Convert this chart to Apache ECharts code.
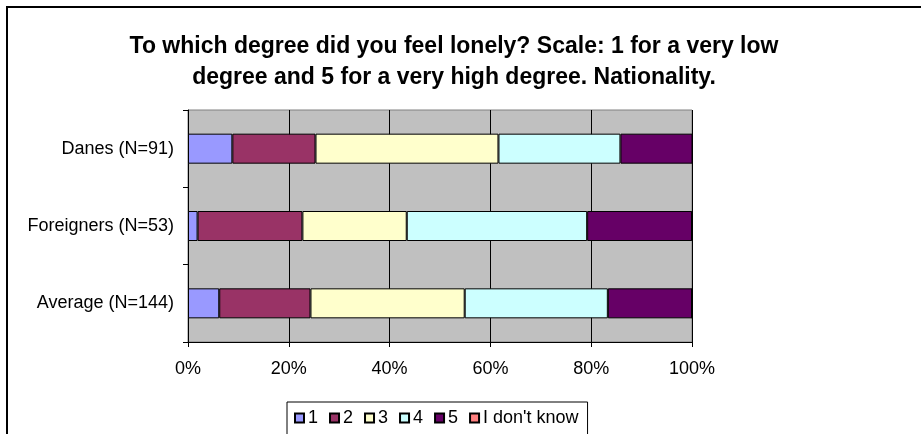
<!DOCTYPE html>
<html>
<head>
<meta charset="utf-8">
<script src="https://cdn.jsdelivr.net/npm/echarts@6/dist/echarts.min.js"></script>
<style>
  html, body { margin: 0; padding: 0; background: #fff; }
  #chart { width: 921px; height: 434px; }
</style>
</head>
<body>
<div id="chart"></div>
<script>
// Share of answers (%) per loneliness score, by nationality group
const groups = ['Danes (N=91)', 'Foreigners (N=53)', 'Average (N=144)'];
const scoreNames = ['1', '2', '3', '4', '5', "I don't know"];
const score1 = [8.8, 1.9, 6.2];
const score2 = [16.5, 20.8, 18.1];
const score3 = [36.3, 20.7, 30.6];
const score4 = [24.2, 35.8, 28.4];
const score5 = [14.3, 20.8, 16.7];
const dontKnow = [0, 0, 0];
const xTicks = [0, 20, 40, 60, 80, 100];

const colors = ['#9999FF', '#993366', '#FFFFCC', '#CCFFFF', '#660066', '#FF8080'];
const seriesValues = [score1, score2, score3, score4, score5, dontKnow];

const FONT = 'Liberation Sans, Arial, sans-serif';

const chart = echarts.init(document.getElementById('chart'), null, { renderer: 'canvas' });

chart.setOption({
  animation: false,
  backgroundColor: '#fff',
  color: colors,
  title: {
    text: 'To which degree did you feel lonely? Scale: 1 for a very low\ndegree and 5 for a very high degree. Nationality.',
    left: 449,
    textAlign: 'center',
    top: 26,
    textStyle: {
      fontFamily: FONT,
      fontSize: 23,
      fontWeight: 'bold',
      color: '#000',
      lineHeight: 31
    }
  },
  legend: {
    data: scoreNames,
    left: 287,
    top: 402,
    orient: 'horizontal',
    itemWidth: 9,
    itemHeight: 9,
    itemGap: 11,
    padding: [7, 9, 30, 7],
    borderColor: '#000',
    borderWidth: 1,
    icon: 'rect',
    textStyle: { fontFamily: FONT, fontSize: 18, color: '#000', padding: [0, 0, 0, -1] }
  },
  grid: {
    left: 188,
    right: 229,
    top: 110,
    bottom: 92,
    show: true,
    backgroundColor: '#C0C0C0',
    borderColor: '#808080',
    borderWidth: 1
  },
  xAxis: {
    type: 'value',
    min: xTicks[0],
    max: xTicks[xTicks.length - 1],
    interval: xTicks[1] - xTicks[0],
    axisLine: { show: true, lineStyle: { color: '#000', width: 1 } },
    axisTick: { show: true, length: 5, lineStyle: { color: '#000' } },
    axisLabel: {
      formatter: '{value}%',
      fontFamily: FONT,
      fontSize: 18,
      color: '#000',
      margin: 18
    },
    splitLine: { show: true, lineStyle: { color: '#000', width: 1 } }
  },
  yAxis: {
    type: 'category',
    data: groups,
    inverse: true,
    axisLine: { show: true, lineStyle: { color: '#000', width: 1 } },
    axisTick: { show: true, length: 5, lineStyle: { color: '#000' } },
    axisLabel: {
      fontFamily: FONT,
      fontSize: 18,
      color: '#000',
      margin: 14
    },
    splitLine: { show: false }
  },
  series: scoreNames.map((name, i) => ({
    name: name,
    type: 'bar',
    stack: 'total',
    barWidth: 30,
    data: seriesValues[i],
    itemStyle: { color: colors[i], borderColor: '#000', borderWidth: 1 },
    emphasis: { disabled: true }
  })),
  graphic: [{
    type: 'rect',
    shape: { x: 7, y: 7, width: 1000, height: 1000 },
    style: { fill: 'none', stroke: '#000', lineWidth: 2 },
    silent: true,
    z: 100
  }]
});
</script>
</body>
</html>
